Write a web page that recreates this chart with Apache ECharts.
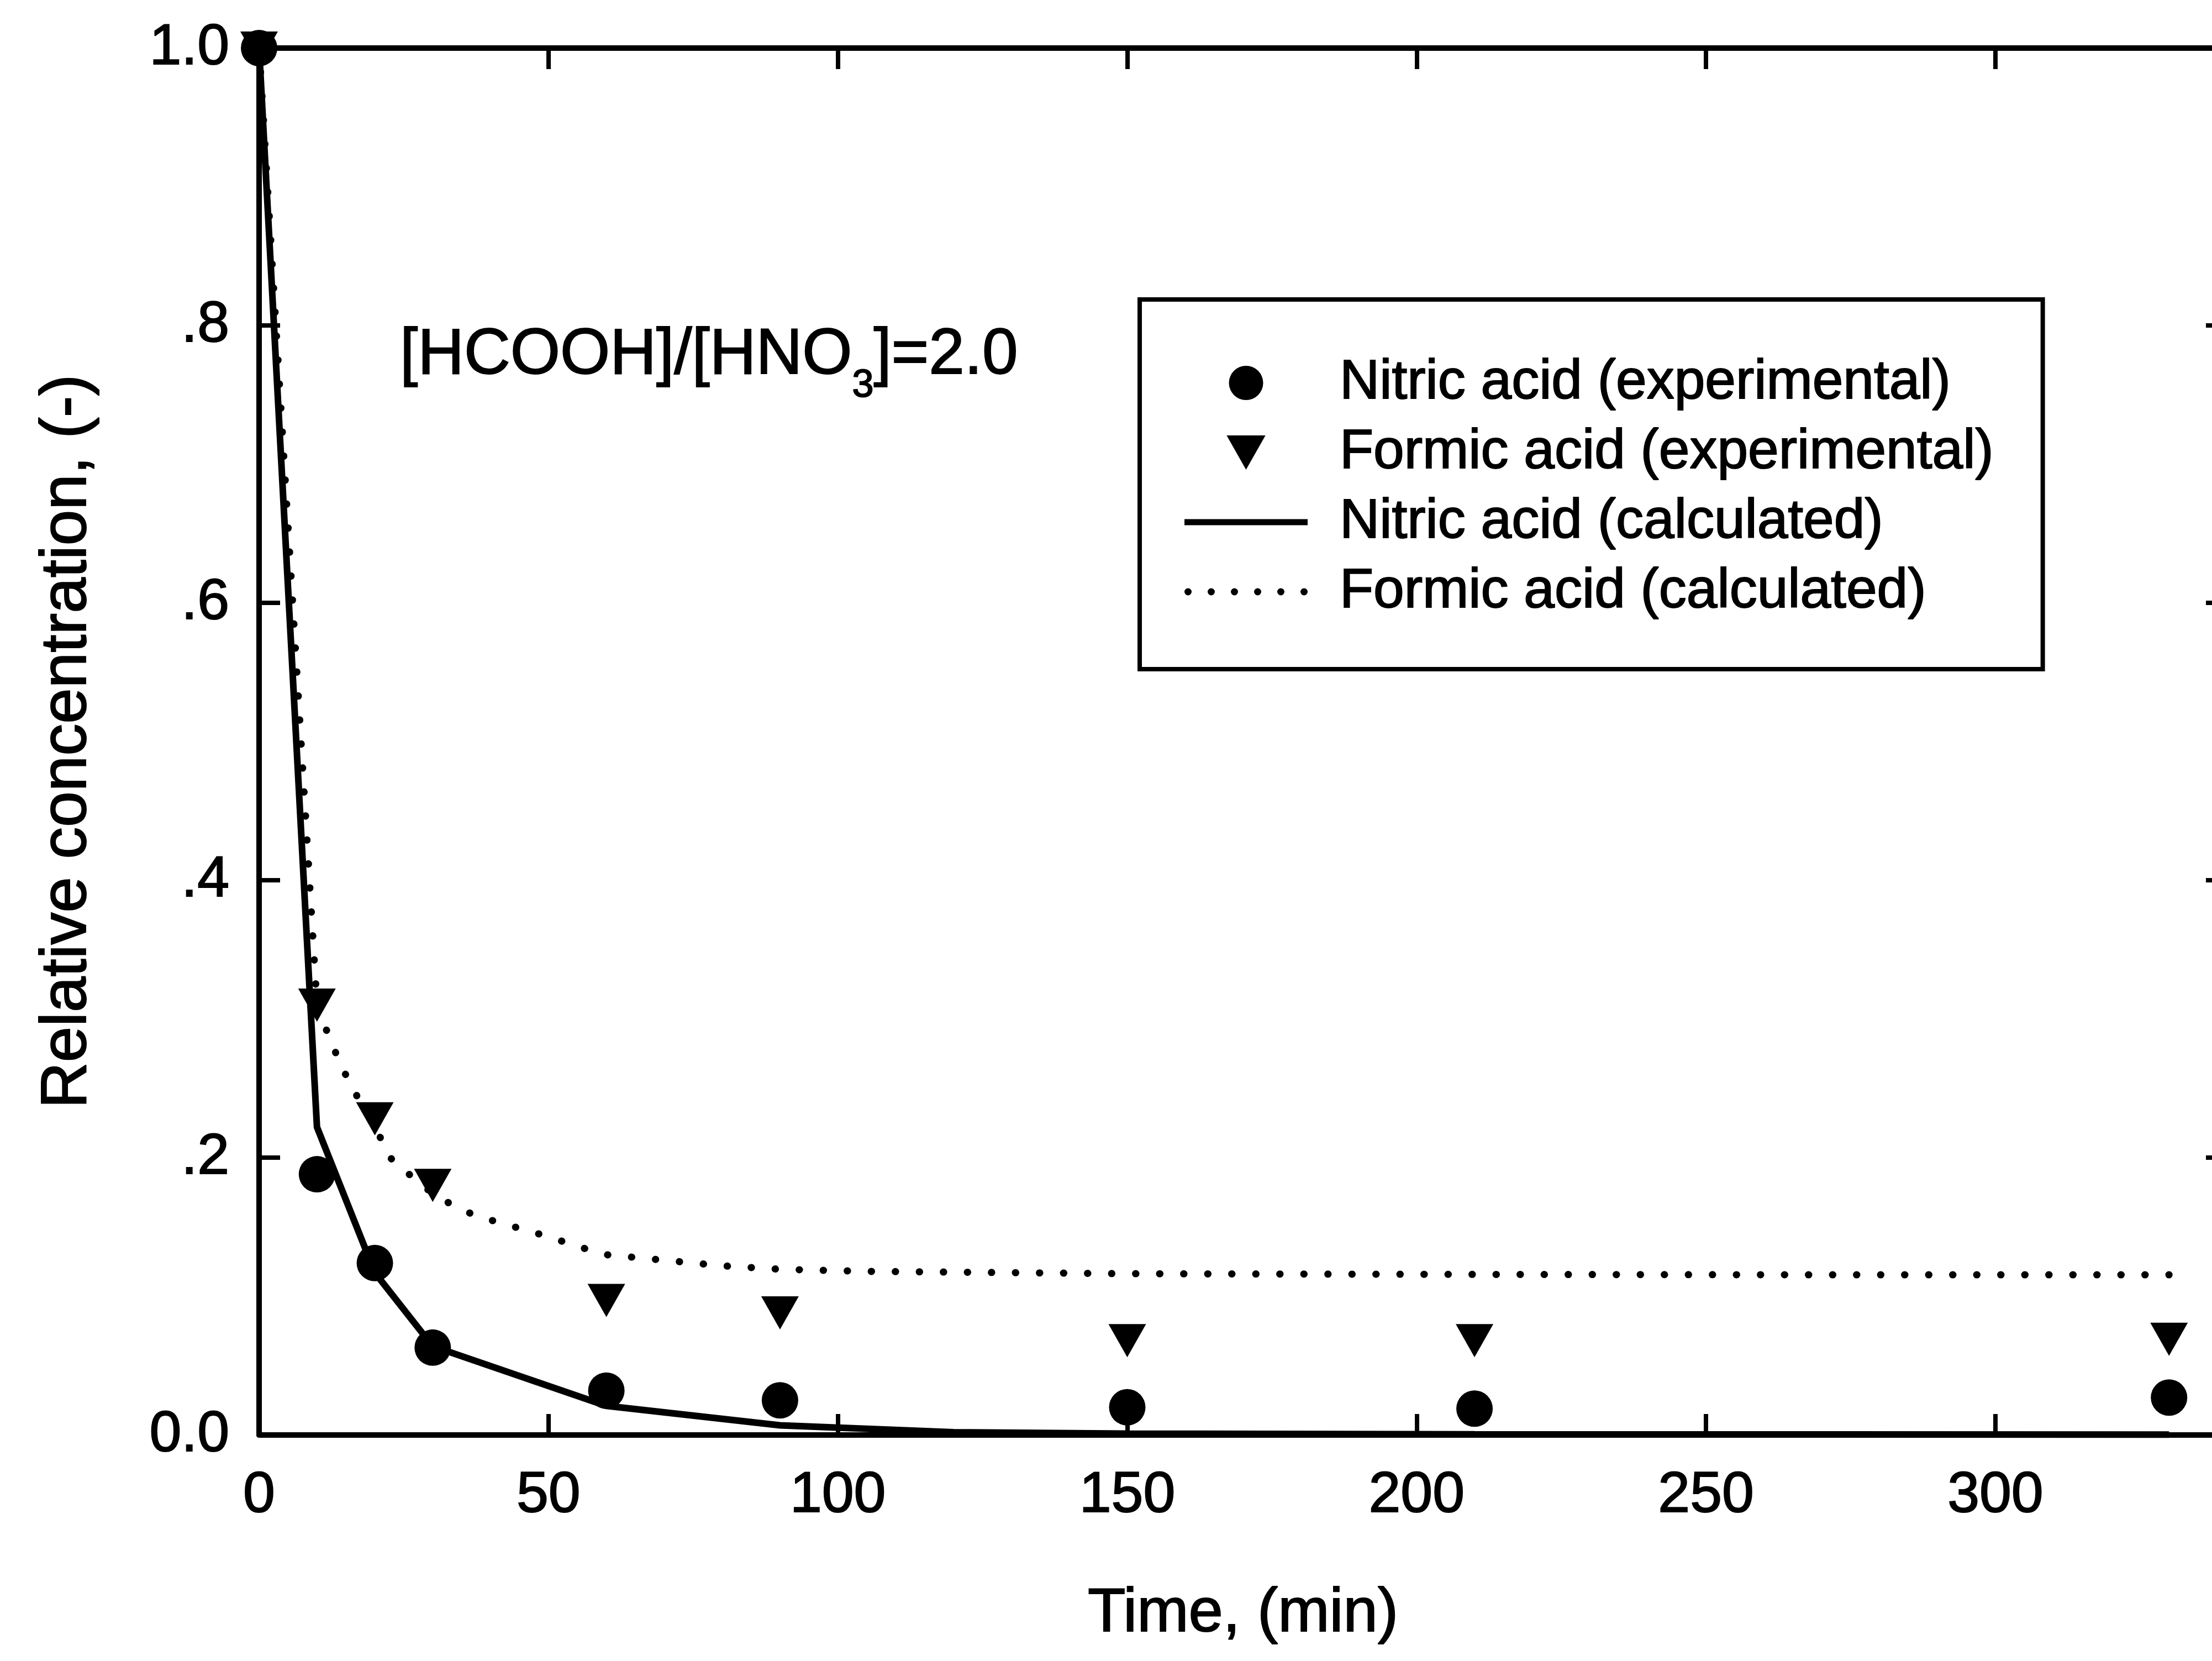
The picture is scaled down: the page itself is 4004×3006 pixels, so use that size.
<!DOCTYPE html>
<html><head><meta charset="utf-8">
<script src="https://cdn.jsdelivr.net/npm/echarts@6/dist/echarts.min.js"></script>
<style>
html,body{margin:0;padding:0;overflow:hidden;background:#fff;width:4004px;height:3006px}
#c{width:4100px;height:3006px}
</style></head>
<body><div id="c"></div>
<script>
// ---- data ----
const timeExp   = [0, 10, 20, 30, 60, 90, 150, 210, 330];
const nitricExp = [1.0, 0.188, 0.124, 0.063, 0.032, 0.025, 0.020, 0.019, 0.027];
const formicExp = [1.0, 0.310, 0.228, 0.180, 0.097, 0.088, 0.068, 0.068, 0.069];

const nitricCalcTime = [0, 10, 20, 30, 60, 90, 120, 150, 210, 330];
const nitricCalc     = [1.0, 0.222, 0.117, 0.064, 0.021, 0.007, 0.002, 0.001, 0.0005, 0.0003];

const formicCalcTime = [0, 10, 12, 14, 16, 20, 23, 30, 35, 40, 45, 50, 55, 60, 70, 80, 90, 105, 150, 210, 270, 330];
const formicCalc     = [1.0, 0.310, 0.288, 0.268, 0.251, 0.222, 0.198, 0.174, 0.162, 0.155, 0.149, 0.143, 0.136, 0.130, 0.126, 0.122, 0.1195, 0.118, 0.1163, 0.1158, 0.1155, 0.1155];

const seriesNames = ['Nitric acid (experimental)', 'Formic acid (experimental)', 'Nitric acid (calculated)', 'Formic acid (calculated)'];
const xLabels = { min: 0, max: 340, interval: 50, lastLabel: 300 };
const yLabels = { min: 0, max: 1, interval: 0.2 };
const annotation = '[HCOOH]/[HNO|3|]=2.0';
const xTitle = 'Time, (min)';
const yTitle = 'Relative concentration, (-)';

// ---- build ----
const FONT = '"Liberation Sans", Arial, Helvetica, sans-serif';
const zip = (xs, ys) => xs.map((x, i) => [x, ys[i]]);
const TRI = 'path://M0,0 L68,0 L34,60 Z';
const SOLID = 'path://M0,0 L223,0 L223,11 L0,11 Z';
let dots = '';
for (let i = 0; i < 6; i++) { const cx = 6.5 + i * 42; dots += 'M' + (cx - 6.5) + ',6.5 a6.5,6.5 0 1,0 13,0 a6.5,6.5 0 1,0 -13,0 Z '; }
const DOTS = 'path://' + dots;

const axisLine = { show: true, onZero: false, lineStyle: { color: '#000', width: 10 } };
const axisTick = { show: true, inside: true, length: 38, lineStyle: { color: '#000', width: 8 } };
const thick = { textBorderColor: '#000', textBorderWidth: 2 };

const annParts = annotation.split('|');

const chart = echarts.init(document.getElementById('c'), null, { renderer: 'canvas' });
chart.setOption({
  animation: false,
  backgroundColor: '#fff',
  textStyle: { fontFamily: FONT, color: '#000' },
  grid: { left: 469, top: 87, width: 3562, height: 2510, containLabel: false, outerBoundsMode: 'none' },
  xAxis: [
    { type: 'value', position: 'bottom', min: xLabels.min, max: xLabels.max, interval: xLabels.interval,
      axisLine, axisTick, splitLine: { show: false },
      axisLabel: Object.assign({ margin: 58, fontSize: 104, fontFamily: FONT, color: '#000',
        formatter: v => (v > xLabels.lastLabel ? '' : String(v)) }, thick),
      name: xTitle, nameLocation: 'middle', nameGap: 268,
      nameTextStyle: Object.assign({ fontSize: 112, fontFamily: FONT, color: '#000' }, thick) },
    { type: 'value', position: 'top', min: xLabels.min, max: xLabels.max, interval: xLabels.interval,
      axisLine, axisTick, splitLine: { show: false }, axisLabel: { show: false } }
  ],
  yAxis: [
    { type: 'value', position: 'left', min: yLabels.min, max: yLabels.max, interval: yLabels.interval,
      axisLine, axisTick, splitLine: { show: false },
      axisLabel: Object.assign({ margin: 54, fontSize: 104, fontFamily: FONT, color: '#000',
        formatter: v => (v === 0 ? '0.0' : (Math.abs(v - 1) < 1e-9 ? '1.0' : '.' + Math.round(v * 10))) }, thick),
      name: yTitle, nameLocation: 'middle', nameGap: 288,
      nameTextStyle: Object.assign({ fontSize: 116, fontFamily: FONT, color: '#000' }, thick) },
    { type: 'value', position: 'right', min: yLabels.min, max: yLabels.max, interval: yLabels.interval,
      axisLine, axisTick, splitLine: { show: false }, axisLabel: { show: false } }
  ],
  legend: {
    orient: 'vertical', left: 2063, top: 542,
    padding: [100, 88, 89, 81],
    borderColor: '#000', borderWidth: 8,
    itemWidth: 223, itemHeight: 62, itemGap: 24,
    selectedMode: false,
    itemStyle: { opacity: 1 },
    textStyle: Object.assign({ fontSize: 100, fontFamily: FONT, color: '#000', padding: [0, 0, 0, 53], lineHeight: 100 }, thick),
    data: [
      { name: seriesNames[0], icon: 'circle' },
      { name: seriesNames[1], icon: TRI },
      { name: seriesNames[2], icon: SOLID },
      { name: seriesNames[3], icon: DOTS }
    ]
  },
  graphic: [{
    type: 'text', left: 723, top: 585, z: 10,
    style: {
      text: '{a|' + annParts[0] + '}{s|' + annParts[1] + '}{a|' + annParts[2] + '}',
      rich: {
        a: { fontSize: 116, fontFamily: FONT, fill: '#000', stroke: '#000', lineWidth: 2, lineHeight: 124, verticalAlign: 'top' },
        s: { fontSize: 70, fontFamily: FONT, fill: '#000', stroke: '#000', lineWidth: 2, lineHeight: 70, padding: [78, 0, 0, 0], verticalAlign: 'top' }
      }
    }
  }],
  series: [
    { name: seriesNames[2], type: 'line', data: zip(nitricCalcTime, nitricCalc), symbol: 'none', showSymbol: false,
      color: '#000', lineStyle: { color: '#000', width: 12 }, z: 2 },
    { name: seriesNames[3], type: 'line', data: zip(formicCalcTime, formicCalc), symbol: 'none', showSymbol: false,
      color: '#000', lineStyle: { color: '#000', width: 13, type: [0.5, 43], cap: 'round' }, z: 2 },
    { name: seriesNames[1], type: 'scatter', data: zip(timeExp, formicExp), symbol: TRI, symbolSize: [68, 60],
      color: '#000', itemStyle: { color: '#000', opacity: 1 }, z: 3 },
    { name: seriesNames[0], type: 'scatter', data: zip(timeExp, nitricExp), symbol: 'circle', symbolSize: 66,
      color: '#000', itemStyle: { color: '#000', opacity: 1 }, z: 4 }
  ]
});
</script>
</body></html>
